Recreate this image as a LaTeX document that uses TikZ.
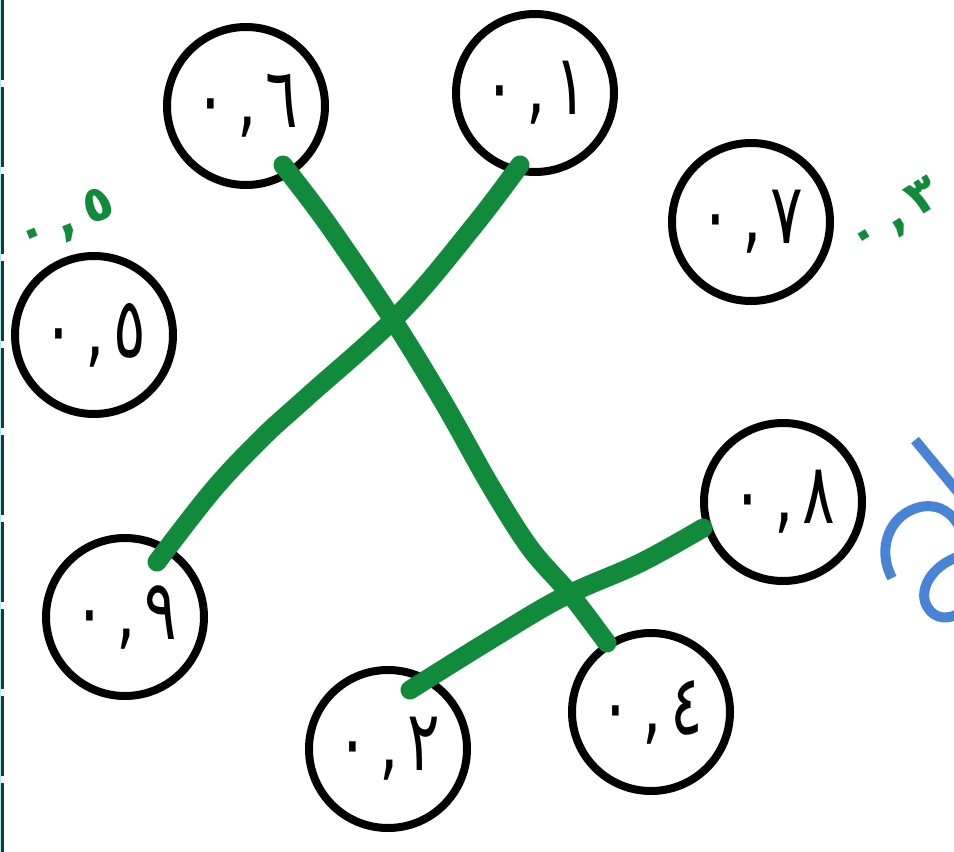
\documentclass[tikz,border=0pt]{standalone}
\usepackage{fontspec}
\newfontfamily\arfont[Script=Arabic]{DejaVu Sans}
\newfontfamily\arlabel[Script=Arabic,LetterSpace=22]{DejaVu Sans Bold}
\definecolor{pen}{RGB}{18,138,60}
\definecolor{bluepen}{RGB}{72,132,214}
\definecolor{edgedark}{RGB}{20,60,60}
\definecolor{edgecyan}{RGB}{175,235,240}
\tikzset{
  numcircle/.style={circle, draw=black, line width=8pt, minimum size=158pt, inner sep=0pt,
    font=\arfont\fontsize{58}{64}\selectfont},
  greenline/.style={draw=pen, line width=19pt, line cap=round, line join=round},
  greenlabel/.style={text=pen, inner sep=0pt, font=\arlabel\fontsize{50}{56}\selectfont},
  bluestroke/.style={draw=bluepen, line width=10pt, line cap=butt}
}
\newcommand{\numtxt}[1]{\scalebox{1.05}[1.45]{٠\kern10pt,\kern8pt#1}}
\begin{document}
\begin{tikzpicture}[x=1pt,y=-1pt]
\useasboundingbox (0,0) rectangle (954,852);
\fill[white] (0,0) rectangle (954,852);
\begin{scope}
\clip (0,0) rectangle (954,852);
% left border
\draw[edgecyan, line width=1.4pt] (0.7,0) -- (0.7,852);
\draw[edgedark, line width=2.6pt, dash pattern=on 80pt off 7pt] (2.6,0) -- (2.6,852);
% circles
\node[numcircle] (n6) at (246,106) {\numtxt{٦}};
\node[numcircle] (n1) at (535,93) {\numtxt{١}};
\node[numcircle] (n7) at (751,222) {\numtxt{٧}};
\node[numcircle] (n5) at (94,335) {\numtxt{٥}};
\node[numcircle] (n8) at (783,502) {\numtxt{٨}};
\node[numcircle] (n9) at (125,617) {\numtxt{٩}};
\node[numcircle] (n2) at (388,749) {\numtxt{٢}};
\node[numcircle] (n4) at (651,712) {\numtxt{٤}};
% green connectors
\draw[greenline] plot[smooth, tension=0.55] coordinates {([shift={(37,59)}]n6.center) (327,223) (393,320) (445,405) (490,485) (530,548) (570,594) ([shift={(-44,-69)}]n4.center)};
\draw[greenline] plot[smooth, tension=0.6] coordinates {([shift={(-15,72)}]n1.center) (473,227) (400,313) (307,397) (263,437) (213,490) ([shift={(32,-55)}]n9.center)};
\draw[greenline] plot[smooth, tension=0.6] coordinates {([shift={(22,-59)}]n2.center) (490,640) (563,597) (640,563) ([shift={(-80,26)}]n8.center)};
% green labels
\node[greenlabel, rotate=22] (g5) at (66,222) {٠,٥};
\node[greenlabel, rotate=32] (g3) at (895,218) {٠,٣};
% blue partial glyph at right edge
\draw[bluestroke] (915,440) -- (962,497);
\draw[bluestroke] (892,578) .. controls (876,548) and (890,514) .. (920,507) .. controls (940,503) and (953,514) .. (960,528);
\draw[bluestroke] (960,556) .. controls (930,566) and (917,592) .. (928,608) .. controls (935,619) and (948,620) .. (960,613);
\end{scope}
\end{tikzpicture}
\end{document}
